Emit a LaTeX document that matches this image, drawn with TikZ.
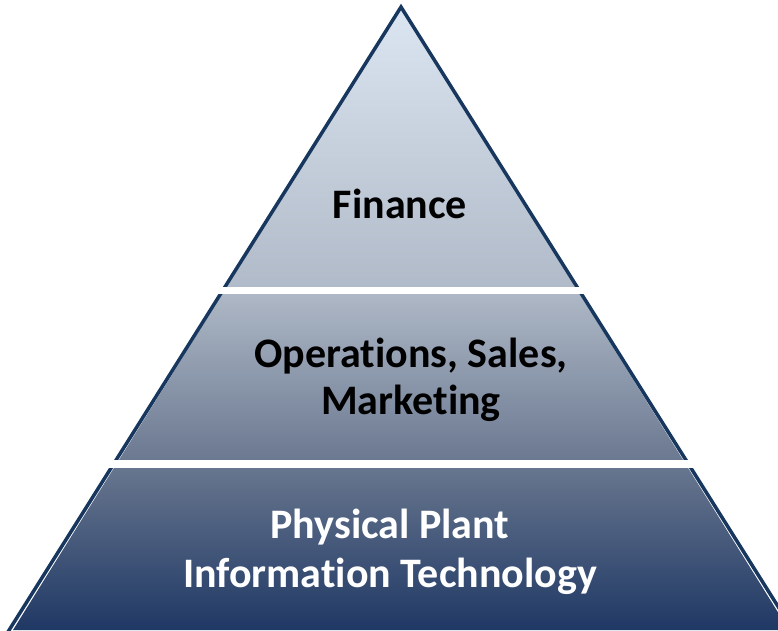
\documentclass[tikz,border=0pt]{standalone}
\usepackage{fontspec}
\setmainfont{Carlito}[RawFeature={-liga}]
\usetikzlibrary{positioning}

\definecolor{navy}{RGB}{31,56,100}
\definecolor{edgeblue}{RGB}{23,55,94}
\pgfdeclareverticalshading{tiershade}{100bp}{%
  color(0bp)=(navy);
  color(25bp)=(navy);
  color(38.5bp)=(rgb,255:red,106;green,120;blue,144);
  color(52.5bp)=(rgb,255:red,176;green,186;blue,200);
  color(75bp)=(rgb,255:red,220;green,230;blue,242);
  color(100bp)=(rgb,255:red,220;green,230;blue,242)}

\begin{document}
\begin{tikzpicture}[x=1pt,y=-1pt,
    tiertext/.style={font=\fontsize{42}{48}\selectfont\bfseries, inner sep=0pt},
    gap/.style={fill=white}]
  \useasboundingbox (0,0) rectangle (778,630);
  \begin{scope}
    \clip (0,0) rectangle (778,630);
    % pyramid body
    \coordinate (apex) at (401,7);
    \coordinate (bl) at (13,630);
    \coordinate (br) at (789,630);
    \shade[shading=tiershade] (apex) -- (bl) -- (br) -- cycle;
    \draw[edgeblue, line width=3.5pt, line join=miter] (1,643) -- (apex) -- (801,643);
    % white cuts between tiers
    \fill[gap] (0,287) rectangle (778,294);
    \fill[gap] (0,460) rectangle (778,468);
  \end{scope}

  % labels
  \node[tiertext, anchor=base] (fin) at (400,218) {Finance};
  \node[tiertext, anchor=base] (ops) at (411,367) {Operations, Sales,};
  \node[tiertext, anchor=base] (mkt) at (411,414) {Marketing};
  \node[tiertext, anchor=base, text=white] (plant) at (390,538) {Physical Plant};
  \node[tiertext, anchor=base, text=white] (it) at (390,587) {Information Technology};
\end{tikzpicture}
\end{document}
